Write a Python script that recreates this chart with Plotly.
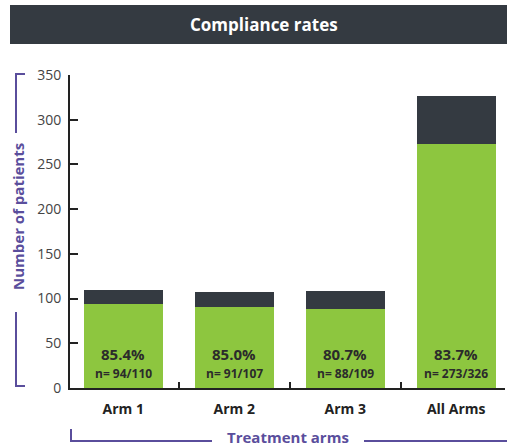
import plotly.graph_objects as go

categories = ["Arm 1", "Arm 2", "Arm 3", "All Arms"]
compliant = [94, 91, 88, 273]
totals = [110, 107, 109, 326]
non_compliant = [t - c for t, c in zip(totals, compliant)]
pct_labels = ["85.4%", "85.0%", "80.7%", "83.7%"]
n_labels = ["n= 94/110", "n= 91/107", "n= 88/109", "n= 273/326"]
y_ticks = [0, 50, 100, 150, 200, 250, 300, 350]

W, H = 507, 446
L, R, T, B = 70, 505, 75, 388

def px(x):
    return (x - L) / (R - L)

def py(y):
    return (B - y) / (B - T)

GREEN = "#8dc63f"
DARK = "#343a41"
PURPLE = "#5a4e9c"
FONT = "Open Sans"

fig = go.Figure()
fig.add_trace(go.Bar(
    x=categories, y=compliant, marker=dict(color=GREEN, line=dict(width=0)),
    hoverinfo="skip", showlegend=False,
))
fig.add_trace(go.Bar(
    x=categories, y=non_compliant, marker=dict(color=DARK, line=dict(width=0)),
    hoverinfo="skip", showlegend=False,
))

for c, p, n in zip(categories, pct_labels, n_labels):
    fig.add_annotation(x=c, y=0, xref="x", yref="y", yanchor="bottom", yshift=5,
                       text=f"<b>{n}</b>", showarrow=False, borderpad=0,
                       font=dict(family=FONT, size=12, color="#2b2b2b"))
    fig.add_annotation(x=c, y=0, xref="x", yref="y", yanchor="bottom", yshift=23,
                       text=f"<b>{p}</b>", showarrow=False, borderpad=0,
                       font=dict(family=FONT, size=15, color="#2b2b2b"))

fig.update_layout(
    barmode="stack", bargap=0.29,
    width=W, height=H,
    margin=dict(l=L, r=W - R, t=T, b=H - B),
    paper_bgcolor="white", plot_bgcolor="white",
    font=dict(family=FONT),
    xaxis=dict(
        range=[-0.48, 3.44], showgrid=False, showline=True, linecolor="#222", linewidth=2,
        ticks="inside", tickson="boundaries", ticklen=6, tickwidth=2, tickcolor="#222",
        tickfont=dict(family=FONT, size=14, color="#222"), ticklabelstandoff=7,
        tickvals=categories, ticktext=[f"<b>{c}</b>" for c in categories],
    ),
    yaxis=dict(
        range=[0, 350], tickvals=y_ticks, showgrid=False, zeroline=False,
        showline=True, linecolor="#222", linewidth=2,
        ticks="inside", ticklen=8, tickwidth=2, tickcolor="#222",
        tickfont=dict(family=FONT, size=14, color="#444"), ticklabelstandoff=4,
    ),
)

# Title bar
fig.add_shape(type="rect", xref="paper", yref="paper",
              x0=px(10), x1=px(508), y0=py(44), y1=py(5),
              fillcolor=DARK, line=dict(width=0), layer="below")
fig.add_annotation(xref="paper", yref="paper", x=px(264), y=py(24),
                   text="<b>Compliance rates</b>", showarrow=False,
                   font=dict(family=FONT, size=17, color="white"),
                   xanchor="center", yanchor="middle")

# Y-axis title with bracket
fig.add_annotation(xref="paper", yref="paper", x=px(18), y=py(217),
                   text="<b>Number of patients</b>", showarrow=False, textangle=-90,
                   font=dict(family=FONT, size=15, color=PURPLE),
                   xanchor="center", yanchor="middle")
line = dict(color=PURPLE, width=2)
fig.add_shape(type="path", xref="paper", yref="paper",
              path=f"M {px(25)} {py(74)} L {px(16)} {py(74)} L {px(16)} {py(133)}", line=line)
fig.add_shape(type="path", xref="paper", yref="paper",
              path=f"M {px(16)} {py(312)} L {px(16)} {py(386)} L {px(25)} {py(386)}", line=line)

# X-axis title with bracket
fig.add_annotation(xref="paper", yref="paper", x=px(288), y=py(437),
                   text="<b>Treatment arms</b>", showarrow=False,
                   font=dict(family=FONT, size=15, color=PURPLE),
                   xanchor="center", yanchor="middle")
fig.add_shape(type="path", xref="paper", yref="paper",
              path=f"M {px(71)} {py(429)} L {px(71)} {py(441)} L {px(212)} {py(441)}", line=line)
fig.add_shape(type="line", xref="paper", yref="paper",
              x0=px(364), x1=px(508), y0=py(441), y1=py(441), line=line)

fig.write_html("out.html", config={"displayModeBar": False},
               post_script="document.body.style.margin='0px';document.body.style.overflow='hidden';")
